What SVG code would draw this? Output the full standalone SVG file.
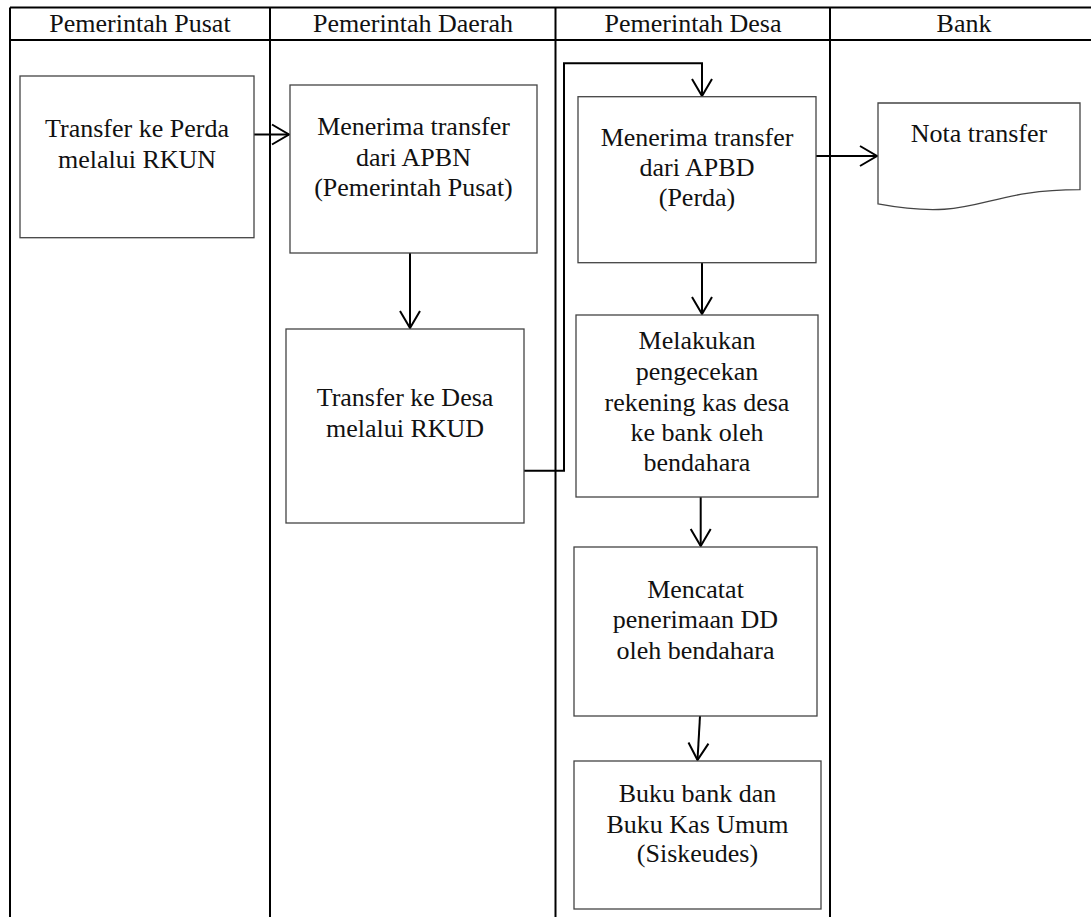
<svg xmlns="http://www.w3.org/2000/svg" width="1091" height="917" viewBox="0 0 1091 917">
<style>
  .lane{stroke:#000;stroke-width:2;fill:none}
  .box{fill:#fff;stroke:#444;stroke-width:1.3}
  .t{font-family:"Liberation Serif","Times New Roman",serif;font-size:26px;fill:#111;text-anchor:middle}
  .c{stroke:#000;stroke-width:2;fill:none}
</style>
<defs>
  <marker id="ah" viewBox="0 0 20 24" refX="18" refY="12" markerWidth="20" markerHeight="24" markerUnits="userSpaceOnUse" orient="auto">
    <path d="M1,2 L18,12 L1,22" fill="none" stroke="#000" stroke-width="2"/>
  </marker>
</defs>
<rect width="1091" height="917" fill="#fff"/>
<g id="lanes">
  <path class="lane" d="M10,7.5 H1100 M10,40 H1100 M10,7.5 V920 M270,7.5 V920 M555.5,7.5 V920 M830,7.5 V920 M1097,7.5 V920"/>
  <text class="t" x="140" y="32">Pemerintah Pusat</text>
  <text class="t" x="413" y="32">Pemerintah Daerah</text>
  <text class="t" x="693" y="32">Pemerintah Desa</text>
  <text class="t" x="964" y="32">Bank</text>
</g>
<g id="connectors">
  <path class="c" d="M254,134.5 H289" marker-end="url(#ah)"/>
  <path class="c" d="M410,253 V328" marker-end="url(#ah)"/>
  <path class="c" d="M524,470.7 H564 V63.3 H702 V96" marker-end="url(#ah)"/>
  <path class="c" d="M816,156 H877" marker-end="url(#ah)"/>
  <path class="c" d="M702,263 V314" marker-end="url(#ah)"/>
  <path class="c" d="M700.7,497 V546" marker-end="url(#ah)"/>
  <path class="c" d="M700,716 L697.5,760" marker-end="url(#ah)"/>
</g>
<g id="n1">
  <rect class="box" x="20" y="76" width="234" height="161.7"/>
  <text class="t" x="137" y="137.3">Transfer ke Perda</text>
  <text class="t" x="137" y="168">melalui RKUN</text>
</g>
<g id="n2">
  <rect class="box" x="290" y="85" width="247" height="168"/>
  <text class="t" x="413.5" y="135">Menerima transfer</text>
  <text class="t" x="413.5" y="165.7">dari APBN</text>
  <text class="t" x="413.5" y="196">(Pemerintah Pusat)</text>
</g>
<g id="n3">
  <rect class="box" x="578" y="96.7" width="238" height="166"/>
  <text class="t" x="697" y="146">Menerima transfer</text>
  <text class="t" x="697" y="176">dari APBD</text>
  <text class="t" x="697" y="206">(Perda)</text>
</g>
<g id="n4">
  <path class="box" d="M878,103 H1080 V189.6 C979,189.6 979,222.6 878,203.9 Z"/>
  <text class="t" x="979" y="142">Nota transfer</text>
</g>
<g id="n5">
  <rect class="box" x="286" y="329" width="238" height="194"/>
  <text class="t" x="405" y="406">Transfer ke Desa</text>
  <text class="t" x="405" y="436.7">melalui RKUD</text>
</g>
<g id="n6">
  <rect class="box" x="576" y="315" width="242" height="182"/>
  <text class="t" x="697" y="349">Melakukan</text>
  <text class="t" x="697" y="380">pengecekan</text>
  <text class="t" x="697" y="410.5">rekening kas desa</text>
  <text class="t" x="697" y="440.5">ke bank oleh</text>
  <text class="t" x="697" y="471">bendahara</text>
</g>
<g id="n7">
  <rect class="box" x="574" y="547" width="243" height="169"/>
  <text class="t" x="695.5" y="597.7">Mencatat</text>
  <text class="t" x="695.5" y="628">penerimaan DD</text>
  <text class="t" x="695.5" y="659">oleh bendahara</text>
</g>
<g id="n8">
  <rect class="box" x="574" y="761" width="247" height="148"/>
  <text class="t" x="697.5" y="801.7">Buku bank dan</text>
  <text class="t" x="697.5" y="832.5">Buku Kas Umum</text>
  <text class="t" x="697.5" y="862">(Siskeudes)</text>
</g>
</svg>
